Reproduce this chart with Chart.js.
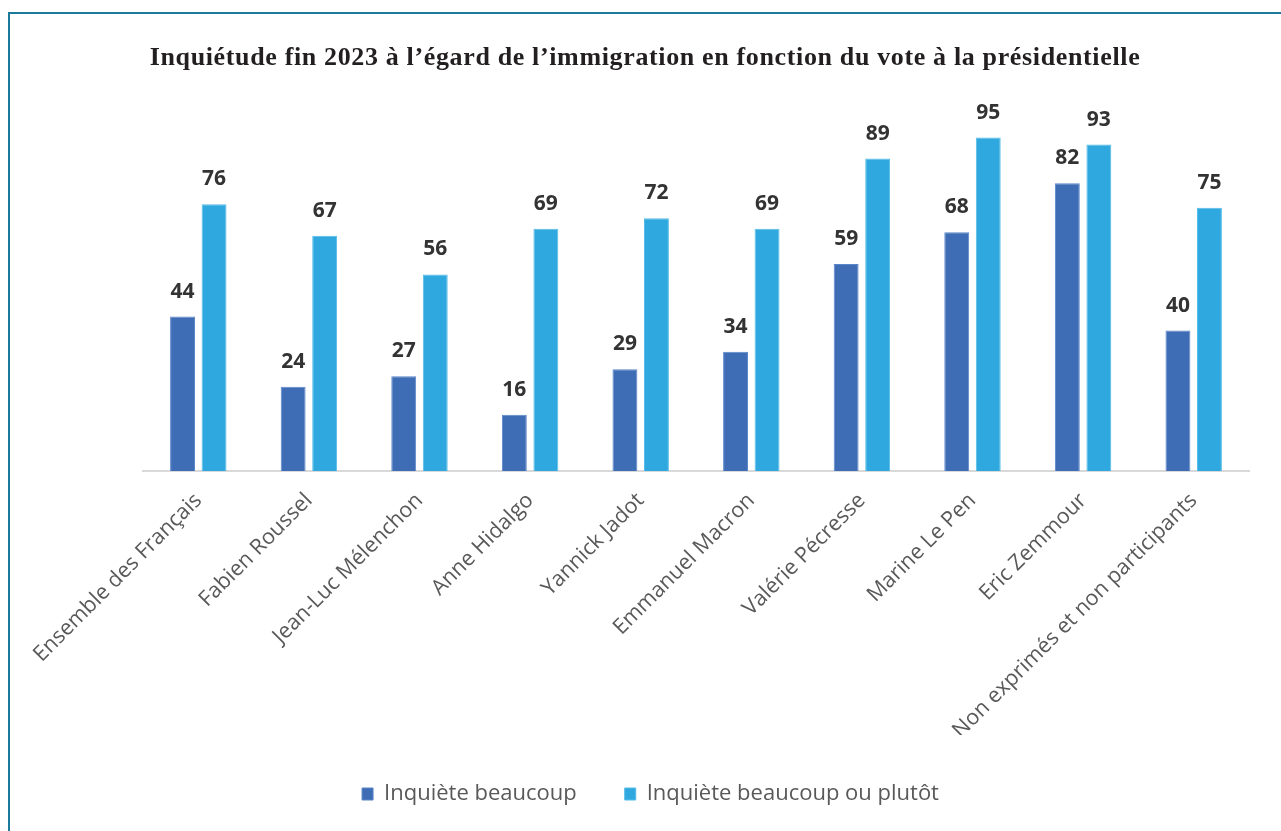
<!DOCTYPE html>
<html lang="fr">
<head>
<meta charset="utf-8">
<script src="https://cdn.jsdelivr.net/npm/chart.js@4"></script>
<style>
  html, body { margin: 0; padding: 0; background: #fff; overflow: hidden; }
  #wrap { position: relative; width: 1281px; height: 831px; }
  #frame {
    position: absolute; left: 8px; top: 12px; width: 1290px; height: 840px;
    border: 2px solid #1c7a9b; pointer-events: none;
  }
</style>
</head>
<body>
<div id="wrap">
  <canvas id="voteChart" width="1281" height="831"></canvas>
  <div id="frame"></div>
</div>
<script>
// categories and series
const candidats = [
  'Ensemble des Français', 'Fabien Roussel', 'Jean-Luc Mélenchon', 'Anne Hidalgo',
  'Yannick Jadot', 'Emmanuel Macron', 'Valérie Pécresse', 'Marine Le Pen',
  'Eric Zemmour', 'Non exprimés et non participants'
];
const inquieteBeaucoup = [44, 24, 27, 16, 29, 34, 59, 68, 82, 40];
const inquieteBeaucoupOuPlutot = [76, 67, 56, 69, 72, 69, 89, 95, 93, 75];
const titre = 'Inquiétude fin 2023 à l\u2019égard de l\u2019immigration en fonction du vote à la présidentielle';

// title drawn by hand so it can be centred on the whole page and spaced out
const pageTitle = {
  id: 'pageTitle',
  afterDraw(chart) {
    const ctx = chart.ctx;
    ctx.save();
    ctx.font = 'bold 26px "Liberation Serif", serif';
    ctx.fillStyle = '#231f20';
    ctx.textAlign = 'center';
    ctx.textBaseline = 'middle';
    const w = ctx.measureText(titre).width;
    if ('letterSpacing' in ctx) {
      ctx.letterSpacing = Math.max(0, (990 - w) / (titre.length - 1)) + 'px';
    }
    ctx.fillText(titre, 645, 58);
    ctx.restore();
  }
};

// value labels above each bar
const barValues = {
  id: 'barValues',
  afterDatasetsDraw(chart) {
    const ctx = chart.ctx;
    ctx.save();
    ctx.font = 'bold 21px "Open Sans", sans-serif';
    ctx.fillStyle = '#333333';
    ctx.textAlign = 'center';
    ctx.textBaseline = 'alphabetic';
    chart.data.datasets.forEach((ds, i) => {
      chart.getDatasetMeta(i).data.forEach((bar, j) => {
        ctx.fillText(ds.data[j], bar.x, bar.y - 19);
      });
    });
    ctx.restore();
  }
};

let voteChart = new Chart(document.getElementById('voteChart').getContext('2d'), {
  type: 'bar',
  data: {
    labels: candidats,
    datasets: [{
      label: 'Inquiète beaucoup',
      data: inquieteBeaucoup,
      backgroundColor: '#3e6cb5',
      borderColor: '#5a85c8',
      borderWidth: 1
    }, {
      label: 'Inquiète beaucoup ou plutôt',
      data: inquieteBeaucoupOuPlutot,
      backgroundColor: '#2fa8df',
      borderColor: '#55bce8',
      borderWidth: 1
    }]
  },
  options: {
    responsive: false,
    animation: false,
    categoryPercentage: 0.57,
    barPercentage: 0.79,
    layout: {
      padding: { left: 52, right: 32, top: 120, bottom: 16 }
    },
    plugins: {
      title: { display: false },
      legend: {
        position: 'bottom',
        labels: {
          color: '#595959',
          font: { family: '"Open Sans", sans-serif', size: 22 },
          boxWidth: 11,
          boxHeight: 12,
          padding: 48
        }
      },
      tooltip: { enabled: false }
    },
    scales: {
      x: {
        grid: { display: false },
        border: { color: '#d9d9d9', width: 2 },
        ticks: {
          color: '#595959',
          font: { family: '"Open Sans", sans-serif', size: 21.5 },
          minRotation: 45,
          maxRotation: 45,
          padding: 9
        },
        afterFit(scale) { scale.height = 264; }
      },
      y: {
        min: 0,
        max: 100,
        grid: { display: false },
        border: { display: false },
        ticks: { display: false },
        // empty strip that keeps the bars off the left edge
        afterFit(scale) { scale.width = 91; }
      }
    }
  },
  plugins: [barValues, pageTitle]
});
</script>
</body>
</html>
